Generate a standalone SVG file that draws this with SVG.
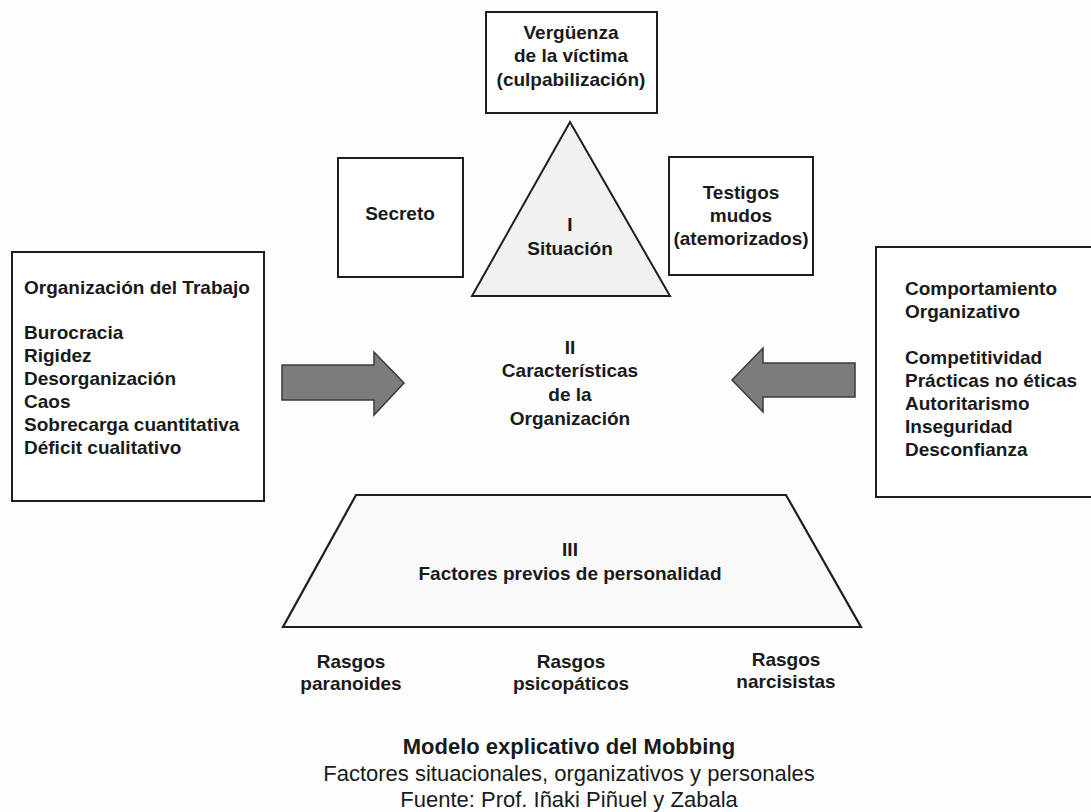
<svg xmlns="http://www.w3.org/2000/svg" width="1091" height="812" viewBox="0 0 1091 812">
<style>
.box{fill:#ffffff;stroke:#1e1e1e;stroke-width:2}
.tri{fill:#f1f1f1;stroke:#1e1e1e;stroke-width:2}
.trap{fill:#f9f9f9;stroke:#1e1e1e;stroke-width:2.2}
.arrow{fill:#7c7c7c;stroke:#3a3a3a;stroke-width:1.5}
text{font-family:"Liberation Sans",Arial,Helvetica,sans-serif;fill:#1a1a1a}
.b{font-weight:bold;font-size:19px}
.c{text-anchor:middle}
.cap1{font-weight:bold;font-size:22px;text-anchor:middle}
.cap2{font-size:22px;text-anchor:middle}
</style>
<rect width="1091" height="812" fill="#fdfdfd"/>

<g id="verguenza">
<rect class="box" x="486" y="12" width="171" height="101"/>
<text class="b c" x="571" y="39">Vergüenza</text>
<text class="b c" x="571" y="62">de la víctima</text>
<text class="b c" x="571" y="86">(culpabilización)</text>
</g>

<g id="secreto">
<rect class="box" x="338" y="158" width="125" height="119"/>
<text class="b c" x="400" y="220">Secreto</text>
</g>

<g id="situacion">
<polygon class="tri" points="570,122 670,296 472,296"/>
<text class="b c" x="570" y="231">I</text>
<text class="b c" x="570" y="255">Situación</text>
</g>

<g id="testigos">
<rect class="box" x="669" y="157" width="144" height="118"/>
<text class="b c" x="741" y="199">Testigos</text>
<text class="b c" x="741" y="222">mudos</text>
<text class="b c" x="741" y="245">(atemorizados)</text>
</g>

<g id="organizacion-trabajo">
<rect class="box" x="12" y="252" width="252" height="249"/>
<text class="b" x="24" y="294">Organización del Trabajo</text>
<text class="b" x="24" y="339">Burocracia</text>
<text class="b" x="24" y="362">Rigidez</text>
<text class="b" x="24" y="385">Desorganización</text>
<text class="b" x="24" y="408">Caos</text>
<text class="b" x="24" y="431">Sobrecarga cuantitativa</text>
<text class="b" x="24" y="454">Déficit cualitativo</text>
</g>

<g id="caracteristicas">
<text class="b c" x="570" y="354">II</text>
<text class="b c" x="570" y="377">Características</text>
<text class="b c" x="570" y="401">de la</text>
<text class="b c" x="570" y="425">Organización</text>
</g>

<g id="comportamiento">
<rect class="box" x="876" y="247" width="230" height="250"/>
<text class="b" x="905" y="295">Comportamiento</text>
<text class="b" x="905" y="318">Organizativo</text>
<text class="b" x="905" y="364">Competitividad</text>
<text class="b" x="905" y="387">Prácticas no éticas</text>
<text class="b" x="905" y="410">Autoritarismo</text>
<text class="b" x="905" y="433">Inseguridad</text>
<text class="b" x="905" y="456">Desconfianza</text>
</g>

<g id="personalidad">
<polygon class="trap" points="356,495 786,495 861,627 283,627"/>
<text class="b c" x="570" y="556">III</text>
<text class="b c" x="570" y="580">Factores previos de personalidad</text>
</g>

<g id="rasgos-paranoides">
<text class="b c" x="351" y="668">Rasgos</text>
<text class="b c" x="351" y="690">paranoides</text>
</g>
<g id="rasgos-psicopaticos">
<text class="b c" x="571" y="668">Rasgos</text>
<text class="b c" x="571" y="690">psicopáticos</text>
</g>
<g id="rasgos-narcisistas">
<text class="b c" x="786" y="666">Rasgos</text>
<text class="b c" x="786" y="688">narcisistas</text>
</g>

<g id="connectors">
<polygon class="arrow" points="282,365 374,365 374,352 404,383 374,415 374,400 282,400"/>
<polygon class="arrow" points="855,363 763,363 763,348 732,380 763,412 763,397 855,397"/>
</g>

<g id="caption">
<text class="cap1" x="569" y="754">Modelo explicativo del Mobbing</text>
<text class="cap2" x="569" y="781">Factores situacionales, organizativos y personales</text>
<text class="cap2" x="569" y="807">Fuente: Prof. Iñaki Piñuel y Zabala</text>
</g>
</svg>
